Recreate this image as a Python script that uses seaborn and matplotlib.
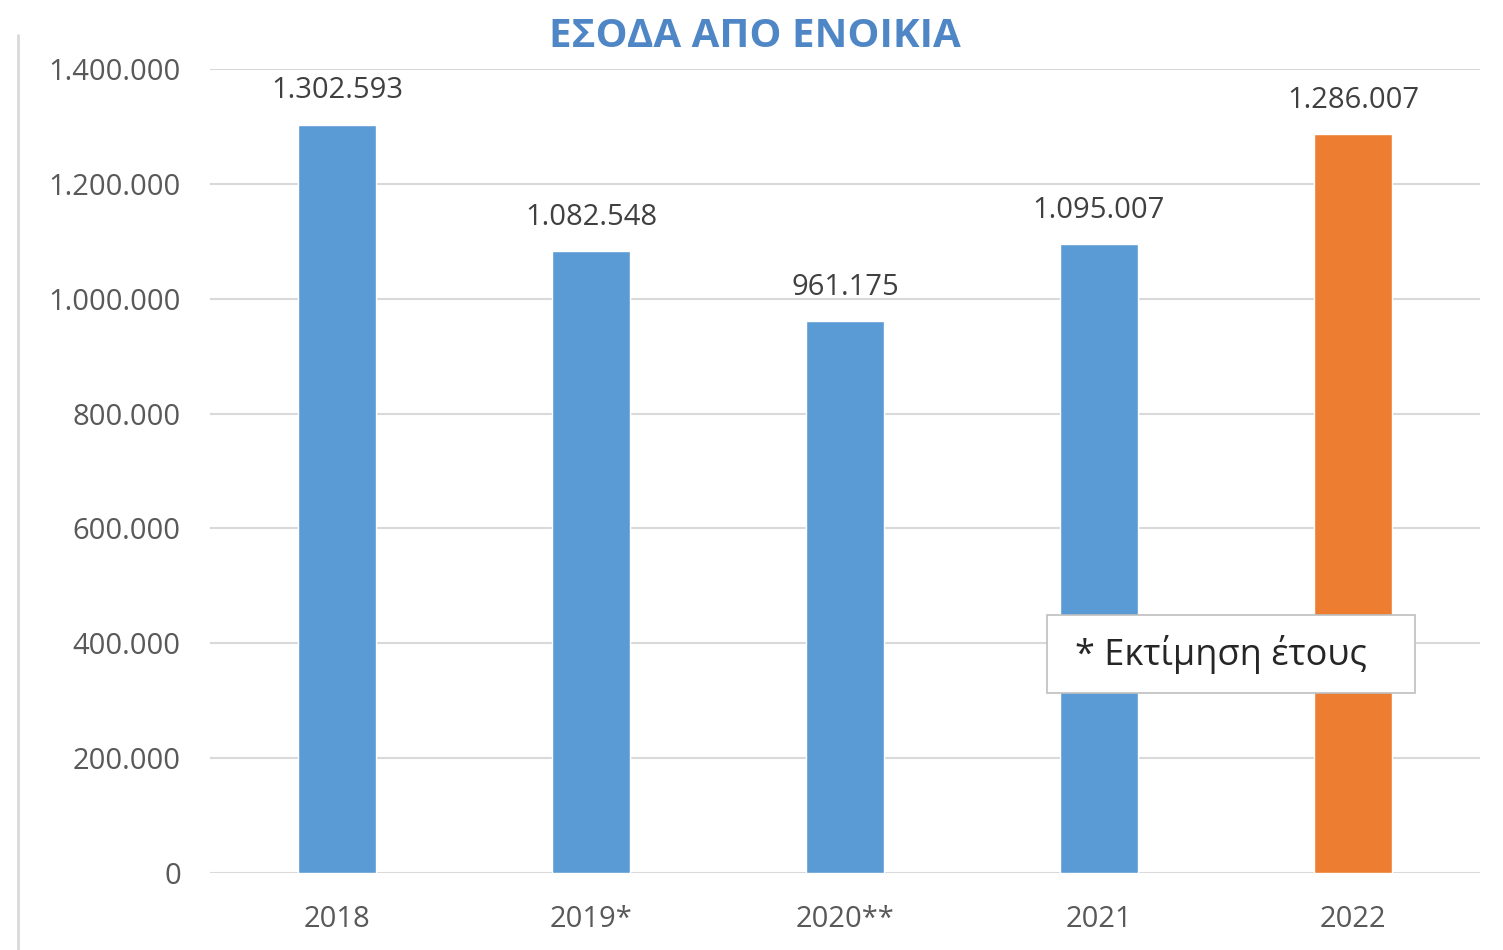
import matplotlib
matplotlib.use("Agg")
import matplotlib.pyplot as plt
import seaborn as sns
import pandas as pd
from matplotlib.lines import Line2D
from matplotlib.patches import Rectangle

# data
years = ["2018", "2019*", "2020**", "2021", "2022"]
income = [1302593, 1082548, 961175, 1095007, 1286007]
bar_colors = ["#5B9BD5", "#5B9BD5", "#5B9BD5", "#5B9BD5", "#ED7D31"]
y_ticks = [0, 200000, 400000, 600000, 800000, 1000000, 1200000, 1400000]

df = pd.DataFrame({"year": years, "income": income})

sns.set_style("white")
plt.rcParams["font.family"] = ["Open Sans", "DejaVu Sans"]


def fmt(v):
    return f"{v:,}".replace(",", ".")


fig = plt.figure(figsize=(15.03, 9.5), dpi=100)
ax = fig.add_axes([0.1397, 0.081, 0.845, 0.8464])

sns.barplot(data=df, x="year", y="income", hue="year", palette=bar_colors,
            legend=False, width=0.307, saturation=1, ax=ax, zorder=3)

ax.set_xlim(-0.5, 4.5)
ax.set_ylim(0, 1400000)
ax.set_yticks(y_ticks)
ax.set_yticklabels([fmt(v) for v in y_ticks])
ax.grid(axis="y", color="#D9D9D9", linewidth=1.5, zorder=0)
ax.tick_params(axis="y", length=0, pad=21, labelsize=21, labelcolor="#595959")
ax.tick_params(axis="x", length=0, pad=23, labelsize=21, labelcolor="#595959")
ax.set_xlabel("")
ax.set_ylabel("")
for s in ax.spines.values():
    s.set_visible(False)

for i, v in enumerate(income):
    ax.annotate(fmt(v), (i, v), xytext=(0, 14), textcoords="offset points",
                ha="center", va="bottom", fontsize=21, color="#404040")

# note box
ax.add_patch(Rectangle((0.659, 0.224), 0.29, 0.097, transform=ax.transAxes,
                       facecolor="white", edgecolor="#BFBFBF", linewidth=1.2,
                       zorder=5, clip_on=False))
ax.text(0.681, 0.272, "* Εκτίμηση έτους", transform=ax.transAxes,
        ha="left", va="center", fontsize=26, color="#262626", zorder=6)

fig.text(0.502, 0.962, "ΕΣΟΔΑ ΑΠΟ ΕΝΟΙΚΙΑ", ha="center", va="center",
         fontsize=29, fontweight="bold", color="#4F86C6")

fig.add_artist(Line2D([0.012, 0.012], [0, 0.963], transform=fig.transFigure,
                      color="#D9D9D9", linewidth=2))

fig.savefig("out.png", dpi=100)
